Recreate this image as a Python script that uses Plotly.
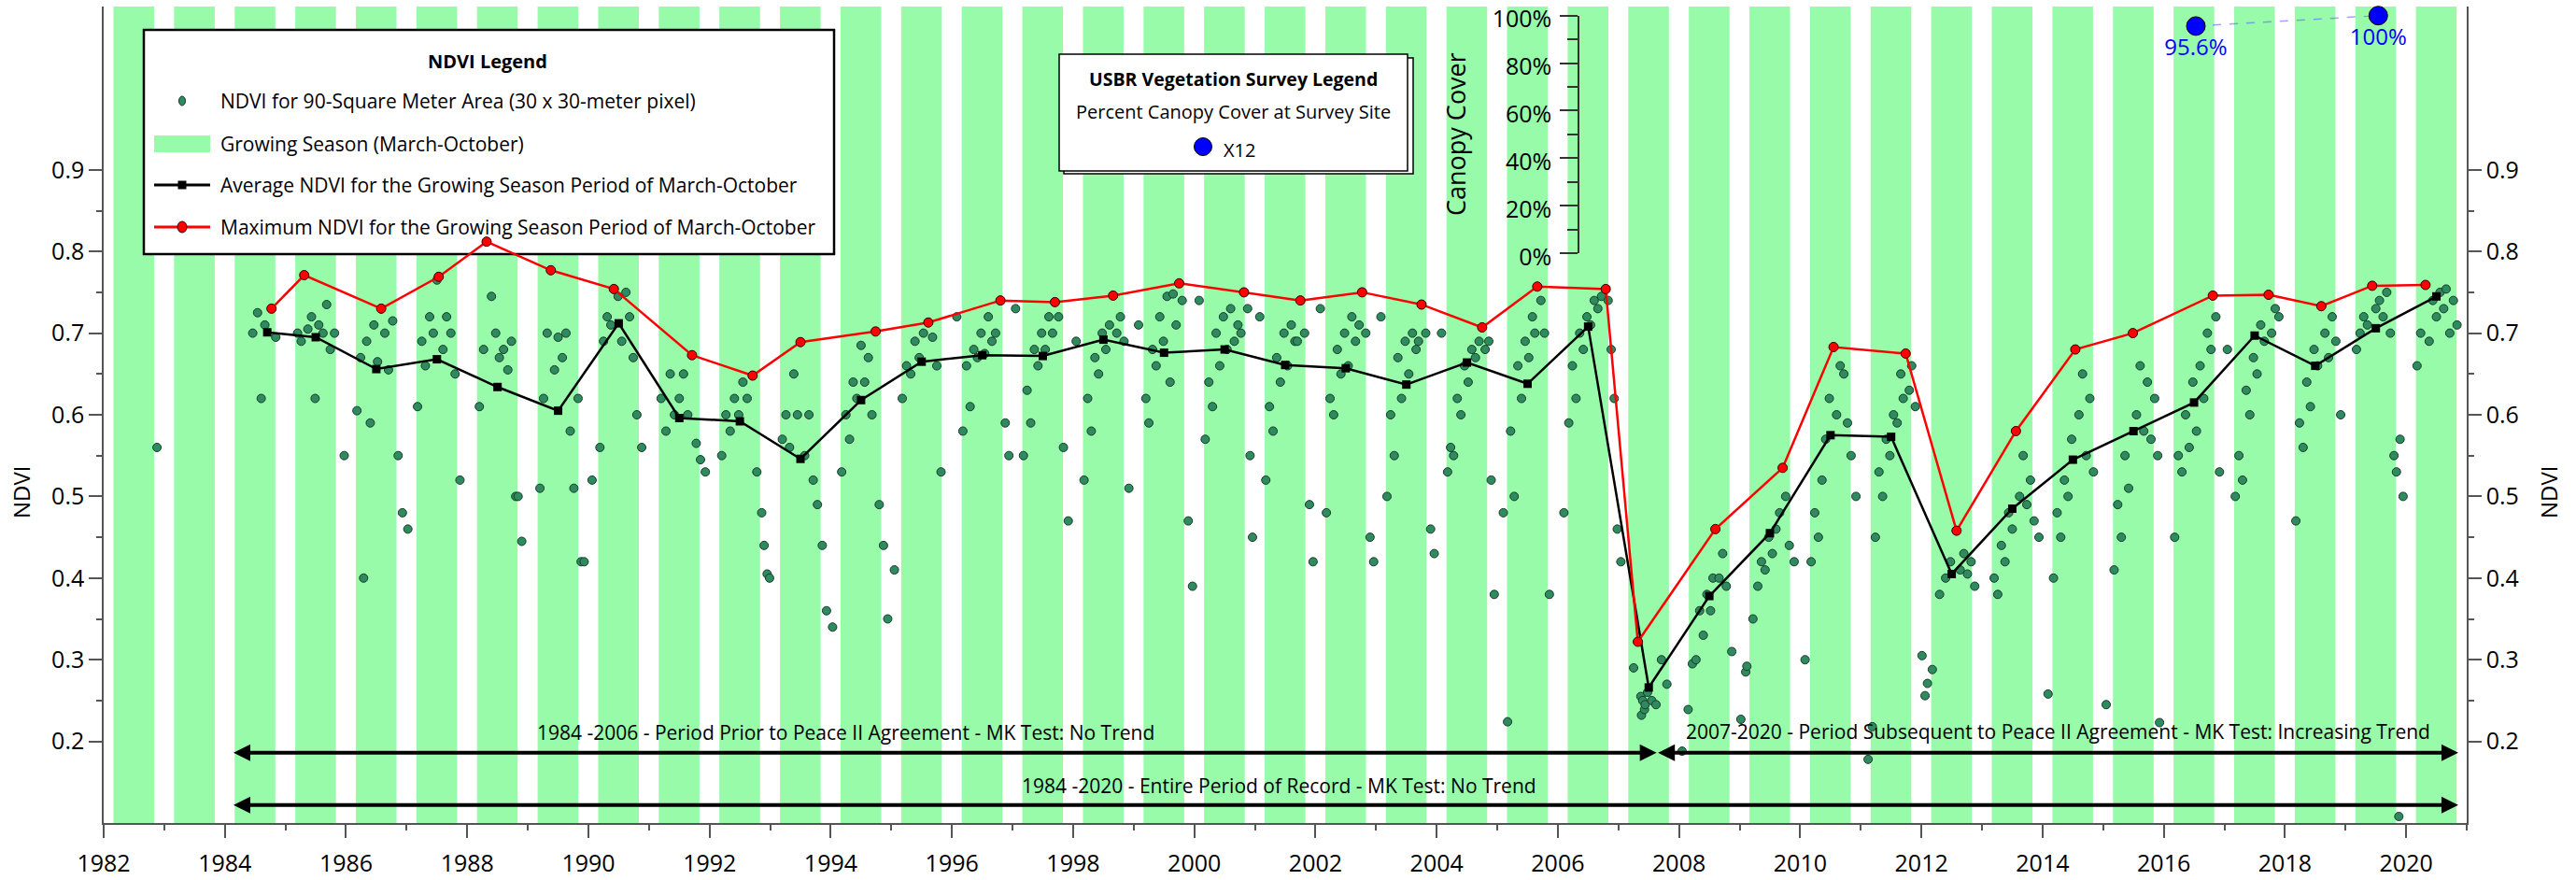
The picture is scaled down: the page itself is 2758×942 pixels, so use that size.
import plotly.graph_objects as go

# ---------------------------------------------------------------- data
season_years = list(range(1982, 2021))          # growing seasons shaded (Mar-Oct)

avg_date = [1984.70, 1985.50, 1986.50, 1987.50, 1988.50, 1989.50, 1990.50, 1991.50,
            1992.50, 1993.50, 1994.50, 1995.50, 1996.50, 1997.50, 1998.50, 1999.50,
            2000.50, 2001.50, 2002.50, 2003.50, 2004.50, 2005.50, 2006.50, 2007.50,
            2008.50, 2009.50, 2010.50, 2011.50, 2012.50, 2013.50, 2014.50, 2015.50,
            2016.50, 2017.50, 2018.50, 2019.50, 2020.50]
avg_ndvi = [0.701, 0.695, 0.656, 0.668, 0.634, 0.605, 0.712, 0.596,
            0.592, 0.546, 0.618, 0.665, 0.673, 0.672, 0.692, 0.676,
            0.680, 0.661, 0.657, 0.637, 0.664, 0.638, 0.708, 0.266,
            0.378, 0.455, 0.575, 0.573, 0.405, 0.485, 0.545, 0.580,
            0.615, 0.697, 0.660, 0.706, 0.745]

max_date = [1984.77, 1985.31, 1986.58, 1987.53, 1988.32, 1989.38, 1990.42, 1991.71,
            1992.71, 1993.50, 1994.74, 1995.61, 1996.80, 1997.70, 1998.66, 1999.75,
            2000.82, 2001.75, 2002.77, 2003.75, 2004.75, 2005.66, 2006.79, 2007.32,
            2008.60, 2009.71, 2010.55, 2011.74, 2012.58, 2013.56, 2014.54, 2015.49,
            2016.81, 2017.73, 2018.60, 2019.44, 2020.32]
max_ndvi = [0.730, 0.771, 0.730, 0.769, 0.812, 0.777, 0.754, 0.673,
            0.648, 0.689, 0.702, 0.713, 0.740, 0.738, 0.746, 0.761,
            0.750, 0.740, 0.750, 0.735, 0.707, 0.757, 0.754, 0.322,
            0.460, 0.535, 0.683, 0.675, 0.458, 0.580, 0.680, 0.700,
            0.746, 0.747, 0.733, 0.758, 0.759]

# individual pixel observations, one line per year
obs_date = [
    1982.88,
    1984.46, 1984.54, 1984.60, 1984.66, 1984.77, 1984.84,
    1985.20, 1985.26, 1985.31, 1985.37, 1985.43, 1985.49, 1985.55, 1985.62, 1985.68, 1985.74, 1985.81, 1985.97,
    1986.18, 1986.24, 1986.29, 1986.34, 1986.40, 1986.46, 1986.52, 1986.58, 1986.64, 1986.70, 1986.77, 1986.86, 1986.93,
    1987.02, 1987.18, 1987.25, 1987.31, 1987.38, 1987.44, 1987.50, 1987.53, 1987.60, 1987.66, 1987.73, 1987.80, 1987.88,
    1988.20, 1988.27, 1988.32, 1988.40, 1988.47, 1988.53, 1988.60, 1988.67, 1988.73, 1988.80, 1988.84, 1988.90,
    1989.20, 1989.26, 1989.32, 1989.38, 1989.44, 1989.50, 1989.57, 1989.63, 1989.70, 1989.76, 1989.83, 1989.88, 1989.93,
    1990.06, 1990.19, 1990.25, 1990.31, 1990.37, 1990.42, 1990.49, 1990.55, 1990.62, 1990.68, 1990.74, 1990.80, 1990.88,
    1991.20, 1991.28, 1991.35, 1991.42, 1991.50, 1991.57, 1991.64, 1991.71, 1991.78, 1991.85, 1991.93,
    1992.20, 1992.27, 1992.34, 1992.41, 1992.48, 1992.55, 1992.62, 1992.71, 1992.78, 1992.86, 1992.90, 1992.95, 1992.99,
    1993.20, 1993.26, 1993.32, 1993.39, 1993.45, 1993.50, 1993.57, 1993.64, 1993.71, 1993.78, 1993.86, 1993.93,
    1994.03, 1994.18, 1994.25, 1994.31, 1994.37, 1994.43, 1994.50, 1994.56, 1994.62, 1994.68, 1994.74, 1994.80, 1994.87, 1994.94,
    1995.05, 1995.18, 1995.25, 1995.32, 1995.39, 1995.46, 1995.53, 1995.61, 1995.68, 1995.75, 1995.82,
    1996.08, 1996.18, 1996.24, 1996.30, 1996.36, 1996.42, 1996.48, 1996.54, 1996.60, 1996.66, 1996.72, 1996.80, 1996.88, 1996.94,
    1997.05, 1997.18, 1997.24, 1997.30, 1997.36, 1997.42, 1997.48, 1997.54, 1997.60, 1997.66, 1997.70, 1997.76, 1997.84, 1997.92,
    1998.05, 1998.18, 1998.24, 1998.30, 1998.36, 1998.42, 1998.48, 1998.54, 1998.60, 1998.66, 1998.72, 1998.78, 1998.84, 1998.92,
    1999.08, 1999.20, 1999.25, 1999.31, 1999.37, 1999.43, 1999.49, 1999.55, 1999.60, 1999.65, 1999.70, 1999.75, 1999.80, 1999.90, 1999.97,
    2000.08, 2000.18, 2000.24, 2000.30, 2000.36, 2000.42, 2000.48, 2000.54, 2000.60, 2000.66, 2000.72, 2000.77, 2000.82, 2000.88, 2000.92, 2000.96,
    2001.08, 2001.18, 2001.24, 2001.30, 2001.36, 2001.42, 2001.48, 2001.54, 2001.60, 2001.66, 2001.70, 2001.75, 2001.82, 2001.90, 2001.96,
    2002.08, 2002.18, 2002.24, 2002.30, 2002.36, 2002.42, 2002.48, 2002.54, 2002.60, 2002.66, 2002.72, 2002.77, 2002.83, 2002.90, 2002.96,
    2003.08, 2003.18, 2003.24, 2003.30, 2003.36, 2003.42, 2003.48, 2003.54, 2003.60, 2003.66, 2003.70, 2003.75, 2003.82, 2003.90, 2003.96,
    2004.08, 2004.18, 2004.23, 2004.28, 2004.34, 2004.40, 2004.46, 2004.52, 2004.58, 2004.64, 2004.70, 2004.75, 2004.80, 2004.86, 2004.90, 2004.95,
    2005.10, 2005.17, 2005.22, 2005.28, 2005.34, 2005.40, 2005.46, 2005.52, 2005.58, 2005.62, 2005.66, 2005.72, 2005.78, 2005.86,
    2006.10, 2006.18, 2006.24, 2006.30, 2006.36, 2006.42, 2006.48, 2006.54, 2006.60, 2006.66, 2006.72, 2006.79, 2006.83, 2006.88, 2006.93, 2006.98, 2007.04,
    2007.25, 2007.32, 2007.37, 2007.38, 2007.40, 2007.43, 2007.44, 2007.48, 2007.55, 2007.62, 2007.71, 2007.80,
    2008.05, 2008.15, 2008.22, 2008.28, 2008.34, 2008.40, 2008.46, 2008.52, 2008.56, 2008.60, 2008.66, 2008.72, 2008.78, 2008.87,
    2009.02, 2009.10, 2009.12, 2009.22, 2009.30, 2009.36, 2009.42, 2009.48, 2009.54, 2009.60, 2009.66, 2009.71, 2009.76, 2009.82, 2009.90,
    2010.08, 2010.18, 2010.24, 2010.30, 2010.36, 2010.42, 2010.48, 2010.55, 2010.60, 2010.66, 2010.72, 2010.78, 2010.84, 2010.92,
    2011.12, 2011.19, 2011.24, 2011.30, 2011.36, 2011.42, 2011.48, 2011.54, 2011.60, 2011.66, 2011.70, 2011.74, 2011.80, 2011.84, 2011.90,
    2012.01, 2012.06, 2012.10, 2012.18, 2012.30, 2012.40, 2012.48, 2012.58, 2012.64, 2012.70, 2012.76, 2012.82, 2012.88,
    2013.20, 2013.26, 2013.32, 2013.38, 2013.44, 2013.50, 2013.56, 2013.62, 2013.68, 2013.74, 2013.80, 2013.86, 2013.94,
    2014.09, 2014.18, 2014.24, 2014.30, 2014.36, 2014.42, 2014.48, 2014.54, 2014.60, 2014.66, 2014.72, 2014.78, 2014.84,
    2015.05, 2015.18, 2015.24, 2015.30, 2015.36, 2015.42, 2015.49, 2015.55, 2015.61, 2015.67, 2015.73, 2015.79, 2015.85, 2015.90, 2015.93,
    2016.18, 2016.24, 2016.30, 2016.36, 2016.42, 2016.48, 2016.54, 2016.60, 2016.66, 2016.72, 2016.78, 2016.81, 2016.86, 2016.92,
    2017.05, 2017.18, 2017.24, 2017.30, 2017.36, 2017.42, 2017.48, 2017.54, 2017.60, 2017.66, 2017.73, 2017.78, 2017.84, 2017.90,
    2018.18, 2018.24, 2018.30, 2018.36, 2018.42, 2018.48, 2018.54, 2018.60, 2018.66, 2018.72, 2018.78, 2018.84, 2018.92,
    2019.18, 2019.24, 2019.30, 2019.36, 2019.44, 2019.50, 2019.56, 2019.62, 2019.68, 2019.74, 2019.80, 2019.84, 2019.88, 2019.90, 2019.95,
    2020.18, 2020.24, 2020.32, 2020.38, 2020.44, 2020.50, 2020.56, 2020.62, 2020.66, 2020.72, 2020.78, 2020.84,
]
obs_ndvi = [
    0.560,
    0.700, 0.725, 0.620, 0.710, 0.730, 0.695,
    0.700, 0.690, 0.771, 0.705, 0.720, 0.620, 0.710, 0.700, 0.735, 0.680, 0.700, 0.550,
    0.605, 0.670, 0.400, 0.690, 0.590, 0.710, 0.665, 0.730, 0.700, 0.655, 0.715, 0.550, 0.480,
    0.460, 0.610, 0.690, 0.660, 0.720, 0.700, 0.765, 0.769, 0.680, 0.720, 0.700, 0.650, 0.520,
    0.610, 0.680, 0.812, 0.745, 0.700, 0.670, 0.680, 0.655, 0.690, 0.500, 0.500, 0.445,
    0.510, 0.620, 0.700, 0.777, 0.655, 0.695, 0.670, 0.700, 0.580, 0.510, 0.620, 0.420, 0.420,
    0.520, 0.560, 0.690, 0.720, 0.710, 0.754, 0.745, 0.690, 0.750, 0.720, 0.670, 0.600, 0.560,
    0.620, 0.580, 0.650, 0.600, 0.620, 0.650, 0.600, 0.673, 0.565, 0.545, 0.530,
    0.550, 0.600, 0.580, 0.620, 0.600, 0.640, 0.620, 0.648, 0.530, 0.480, 0.440, 0.405, 0.400,
    0.570, 0.600, 0.560, 0.650, 0.600, 0.689, 0.550, 0.600, 0.520, 0.490, 0.440, 0.360,
    0.340, 0.530, 0.600, 0.570, 0.640, 0.620, 0.685, 0.640, 0.670, 0.600, 0.702, 0.490, 0.440, 0.350,
    0.410, 0.620, 0.660, 0.650, 0.690, 0.670, 0.700, 0.713, 0.695, 0.660, 0.530,
    0.720, 0.580, 0.660, 0.610, 0.680, 0.670, 0.700, 0.675, 0.720, 0.690, 0.700, 0.740, 0.590, 0.550,
    0.730, 0.550, 0.630, 0.590, 0.680, 0.660, 0.700, 0.680, 0.720, 0.700, 0.738, 0.720, 0.560, 0.470,
    0.690, 0.520, 0.620, 0.580, 0.670, 0.650, 0.700, 0.680, 0.710, 0.746, 0.700, 0.720, 0.690, 0.510,
    0.710, 0.620, 0.590, 0.680, 0.660, 0.720, 0.690, 0.745, 0.640, 0.748, 0.710, 0.761, 0.740, 0.470, 0.390,
    0.740, 0.570, 0.640, 0.610, 0.700, 0.660, 0.720, 0.680, 0.730, 0.690, 0.710, 0.700, 0.750, 0.730, 0.550, 0.450,
    0.720, 0.520, 0.610, 0.580, 0.670, 0.640, 0.700, 0.660, 0.710, 0.690, 0.690, 0.740, 0.700, 0.490, 0.420,
    0.730, 0.480, 0.620, 0.600, 0.680, 0.650, 0.700, 0.660, 0.720, 0.690, 0.710, 0.750, 0.700, 0.450, 0.420,
    0.720, 0.500, 0.600, 0.550, 0.670, 0.620, 0.690, 0.650, 0.700, 0.680, 0.690, 0.735, 0.700, 0.460, 0.430,
    0.700, 0.530, 0.560, 0.550, 0.620, 0.600, 0.660, 0.640, 0.680, 0.670, 0.690, 0.707, 0.680, 0.690, 0.520, 0.380,
    0.480, 0.224, 0.580, 0.500, 0.660, 0.620, 0.690, 0.670, 0.720, 0.700, 0.757, 0.740, 0.700, 0.380,
    0.480, 0.590, 0.660, 0.620, 0.700, 0.680, 0.720, 0.710, 0.740, 0.730, 0.745, 0.754, 0.740, 0.680, 0.620, 0.460, 0.420,
    0.290, 0.322, 0.255, 0.232, 0.250, 0.239, 0.245, 0.260, 0.250, 0.245, 0.300, 0.270,
    0.188, 0.239, 0.295, 0.300, 0.360, 0.330, 0.380, 0.360, 0.400, 0.460, 0.400, 0.430, 0.390, 0.310,
    0.227, 0.285, 0.292, 0.350, 0.390, 0.420, 0.410, 0.450, 0.430, 0.460, 0.480, 0.535, 0.500, 0.440, 0.420,
    0.300, 0.420, 0.480, 0.450, 0.520, 0.570, 0.620, 0.683, 0.600, 0.660, 0.650, 0.590, 0.550, 0.500,
    0.178, 0.218, 0.450, 0.530, 0.500, 0.570, 0.550, 0.600, 0.590, 0.650, 0.620, 0.675, 0.630, 0.660, 0.610,
    0.305, 0.256, 0.271, 0.288, 0.380, 0.400, 0.420, 0.458, 0.410, 0.430, 0.405, 0.420, 0.390,
    0.400, 0.380, 0.440, 0.420, 0.480, 0.460, 0.580, 0.500, 0.550, 0.490, 0.520, 0.470, 0.450,
    0.258, 0.400, 0.480, 0.450, 0.520, 0.500, 0.570, 0.680, 0.600, 0.650, 0.550, 0.620, 0.530,
    0.245, 0.410, 0.490, 0.450, 0.550, 0.510, 0.700, 0.600, 0.660, 0.580, 0.640, 0.570, 0.620, 0.550, 0.223,
    0.450, 0.550, 0.530, 0.600, 0.560, 0.640, 0.580, 0.660, 0.620, 0.700, 0.680, 0.746, 0.720, 0.530,
    0.680, 0.500, 0.550, 0.520, 0.630, 0.600, 0.670, 0.650, 0.710, 0.690, 0.747, 0.700, 0.730, 0.720,
    0.470, 0.590, 0.560, 0.640, 0.610, 0.680, 0.660, 0.733, 0.700, 0.670, 0.720, 0.690, 0.600,
    0.680, 0.700, 0.720, 0.710, 0.758, 0.730, 0.740, 0.720, 0.750, 0.700, 0.550, 0.530, 0.108, 0.570, 0.500,
    0.660, 0.700, 0.759, 0.690, 0.740, 0.720, 0.750, 0.730, 0.754, 0.700, 0.740, 0.710,
]

canopy_date = [2016.53, 2019.54]
canopy_cover = [0.956, 1.000]
canopy_site = "X12"

period_notes = [
    "1984 -2006 - Period Prior to Peace II Agreement - MK Test: No Trend",
    "2007-2020 - Period Subsequent to Peace II Agreement - MK Test: Increasing Trend",
    "1984 -2020 - Entire Period of Record - MK Test: No Trend",
]
period_span = [(1984.12, 2007.63), (2007.63, 2020.86), (1984.12, 2020.86)]
period_level = [0.186, 0.186, 0.122]
note_center = [(1994.24, 0.211), (2014.25, 0.212), (2001.40, 0.146)]

ndvi_ticks = [0.2, 0.3, 0.4, 0.5, 0.6, 0.7, 0.8, 0.9]
ndvi_minor = [0.25, 0.35, 0.45, 0.55, 0.65, 0.75, 0.85]
year_ticks = list(range(1982, 2021, 2))
cover_ticks = [0.0, 0.2, 0.4, 0.6, 0.8, 1.0]
cover_minor = [0.1, 0.3, 0.5, 0.7, 0.9]

# ---------------------------------------------------------------- layout helpers
W, H = 2758, 942
ML, MR, MT, MB = 111, 117, 7, 61
PW, PH = W - ML - MR, H - MT - MB
FONT = "Open Sans"
GREEN = "#98FBAA"
AXIS_GREY = "#555555"
SEASON_START, SEASON_END = 59 / 365, 304 / 365   # 1 March .. 31 October


def fx(px):
    return (px - ML) / PW


def fy(py):
    return (H - MB - py) / PH


fig = go.Figure()

# growing-season stripes
for yr in season_years:
    fig.add_shape(type="rect", xref="x", yref="y domain",
                  x0=yr + SEASON_START, x1=yr + SEASON_END, y0=0, y1=1,
                  fillcolor=GREEN, line_width=0, layer="below")

# NDVI legend frame (sits over the stripes but under the data)
fig.add_shape(type="rect", xref="x domain", yref="y domain",
              x0=fx(154), x1=fx(893), y0=fy(272), y1=fy(32),
              fillcolor="white", line=dict(color="black", width=2.5), layer="below")

# observations
fig.add_trace(go.Scatter(
    x=obs_date, y=obs_ndvi, mode="markers", cliponaxis=False,
    marker=dict(size=9, color="#2E8B5F", line=dict(color="#1A3A28", width=1)),
    showlegend=False))

# growing-season average
fig.add_trace(go.Scatter(
    x=avg_date, y=avg_ndvi, mode="lines+markers",
    line=dict(color="black", width=2.5),
    marker=dict(symbol="square", size=9, color="black"),
    showlegend=False))

# growing-season maximum
fig.add_trace(go.Scatter(
    x=max_date, y=max_ndvi, mode="lines+markers",
    line=dict(color="red", width=2.5),
    marker=dict(size=10, color="red", line=dict(color="#3A0000", width=1)),
    showlegend=False))

# right-hand NDVI axis carrier
fig.add_trace(go.Scatter(x=[None], y=[None], yaxis="y2", showlegend=False))

# canopy cover survey
fig.add_trace(go.Scatter(
    x=canopy_date, y=canopy_cover, yaxis="y3", mode="lines+markers+text",
    cliponaxis=False,
    text=[f"{v * 100:g}%" for v in canopy_cover], textposition="bottom center",
    textfont=dict(family=FONT, size=24, color="blue"),
    line=dict(color="rgba(90,90,255,0.55)", width=1.5, dash="dash"),
    marker=dict(size=20, color="blue", line=dict(color="black", width=1)),
    showlegend=False))

# ---------------------------------------------------------------- legend contents
ann = []


def text(px, py, s, size=20, bold=False, anchor="left", angle=0, color="black"):
    ann.append(dict(xref="paper", yref="paper", x=fx(px), y=fy(py),
                    text=f"<b>{s}</b>" if bold else s, showarrow=False,
                    xanchor=anchor, yanchor="middle", textangle=angle,
                    font=dict(family=FONT, size=size, color=color)))


text(522, 66, "NDVI Legend", size=20, bold=True, anchor="center")
rows = [108, 154, 198, 243]
labels = ["NDVI for 90-Square Meter Area (30 x 30-meter pixel)",
          "Growing Season (March-October)",
          "Average NDVI for the Growing Season Period of March-October",
          "Maximum NDVI for the Growing Season Period of March-October"]
for r, s in zip(rows, labels):
    text(234, r, s, size=21)

sx0, sx1, scx = 165, 225, 195
fig.add_shape(type="circle", xref="x domain", yref="y domain",
              xsizemode="pixel", ysizemode="pixel", xanchor=fx(scx), yanchor=fy(rows[0]),
              x0=-3.5, x1=3.5, y0=-5, y1=5,
              fillcolor="#2E8B5F", line=dict(color="#1A3A28", width=1))
fig.add_shape(type="rect", xref="x domain", yref="y domain",
              x0=fx(sx0), x1=fx(sx1), y0=fy(rows[1] + 9), y1=fy(rows[1] - 9),
              fillcolor=GREEN, line_width=0)
for r, col in ((rows[2], "black"), (rows[3], "red")):
    fig.add_shape(type="line", xref="x domain", yref="y domain",
                  x0=fx(sx0), x1=fx(sx1), y0=fy(r), y1=fy(r),
                  line=dict(color=col, width=3))
fig.add_shape(type="rect", xref="x domain", yref="y domain",
              xsizemode="pixel", ysizemode="pixel", xanchor=fx(scx), yanchor=fy(rows[2]),
              x0=-4.5, x1=4.5, y0=-4.5, y1=4.5, fillcolor="black", line_width=0)
fig.add_shape(type="circle", xref="x domain", yref="y domain",
              xsizemode="pixel", ysizemode="pixel", xanchor=fx(scx), yanchor=fy(rows[3]),
              x0=-5, x1=5, y0=-6, y1=6,
              fillcolor="red", line=dict(color="#3A0000", width=1))

# survey legend (double frame)
fig.add_shape(type="rect", xref="paper", yref="paper",
              x0=fx(1139), x1=fx(1513), y0=fy(186), y1=fy(62),
              fillcolor="white", line=dict(color="black", width=1.5))
fig.add_shape(type="rect", xref="paper", yref="paper",
              x0=fx(1134), x1=fx(1507), y0=fy(183), y1=fy(58),
              fillcolor="white", line=dict(color="black", width=1.5))
text(1320, 84, "USBR Vegetation Survey Legend", size=19.5, bold=True, anchor="center")
text(1320, 119, "Percent Canopy Cover at Survey Site", size=20, anchor="center")
fig.add_shape(type="circle", xref="paper", yref="paper",
              xsizemode="pixel", ysizemode="pixel", xanchor=fx(1288), yanchor=fy(157),
              x0=-9.5, x1=9.5, y0=-9.5, y1=9.5,
              fillcolor="blue", line=dict(color="black", width=1))
text(1308, 160, canopy_site, size=20)

# axis titles
text(1558, 144, "Canopy Cover", size=27, anchor="center", angle=-90)
text(22, 527, "NDVI", size=24, anchor="center", angle=-90)
text(2728, 527, "NDVI", size=24, anchor="center", angle=-90)

# trend-period arrows and notes
for (a, b), lvl in zip(period_span, period_level):
    ann.append(dict(xref="x", yref="y", axref="x", ayref="y",
                    x=b, y=lvl, ax=a, ay=lvl, text="", showarrow=True,
                    arrowhead=2, startarrowhead=2, arrowside="end+start",
                    arrowsize=0.9, startarrowsize=0.9, arrowwidth=4,
                    arrowcolor="black", standoff=0, startstandoff=0))
for s, (cx, cy) in zip(period_notes, note_center):
    ann.append(dict(xref="x", yref="y", x=cx, y=cy, text=s, showarrow=False,
                    xanchor="center", yanchor="middle",
                    font=dict(family=FONT, size=21, color="black")))

axis_common = dict(showgrid=False, zeroline=False, showline=True,
                   linecolor=AXIS_GREY, linewidth=1.5, ticks="outside",
                   tickcolor=AXIS_GREY, tickwidth=1.5,
                   tickfont=dict(family=FONT, size=25, color="black"))

fig.update_layout(
    width=W, height=H, margin=dict(l=ML, r=MR, t=MT, b=MB, autoexpand=False),
    paper_bgcolor="white", plot_bgcolor="rgba(0,0,0,0)", showlegend=False,
    font=dict(family=FONT, color="black"),
    xaxis=dict(range=[1982, 2021], tickmode="array", tickvals=year_ticks,
               ticklen=14, ticklabelstandoff=6,
               minor=dict(dtick=1, tick0=1982, ticks="outside", ticklen=6,
                          tickcolor=AXIS_GREY, tickwidth=1.5),
               **axis_common),
    yaxis=dict(range=[0.1, 1.1], tickmode="array", tickvals=ndvi_ticks,
               ticktext=[f"{v:.1f}" for v in ndvi_ticks], ticklen=14,
               minor=dict(tickmode="array", tickvals=ndvi_minor, ticks="outside",
                          ticklen=6, tickcolor=AXIS_GREY, tickwidth=1.5),
               **axis_common),
    yaxis2=dict(range=[0.1, 1.1], overlaying="y", side="right", anchor="x",
                tickmode="array", tickvals=ndvi_ticks,
                ticktext=[f"{v:.1f}" for v in ndvi_ticks], ticklen=14,
                minor=dict(tickmode="array", tickvals=ndvi_minor, ticks="outside",
                           ticklen=6, tickcolor=AXIS_GREY, tickwidth=1.5),
                **axis_common),
    yaxis3=dict(domain=[fy(271), fy(16.7)], range=[0, 1], anchor="free",
                position=fx(1690), side="left", ticklabeloverflow="allow",
                ticklabelshift=4,
                tickmode="array", tickvals=cover_ticks,
                ticktext=[f"{v * 100:.0f}%" for v in cover_ticks],
                ticklen=19, ticklabelstandoff=4,
                minor=dict(tickmode="array", tickvals=cover_minor, ticks="outside",
                           ticklen=11, tickcolor="#333333", tickwidth=1.5),
                showgrid=False, zeroline=False, showline=True, linecolor="#333333",
                linewidth=1.5, ticks="outside", tickcolor="#333333", tickwidth=1.5,
                tickfont=dict(family=FONT, size=25, color="black")),
    annotations=ann,
)

fig.write_html("out.html")
